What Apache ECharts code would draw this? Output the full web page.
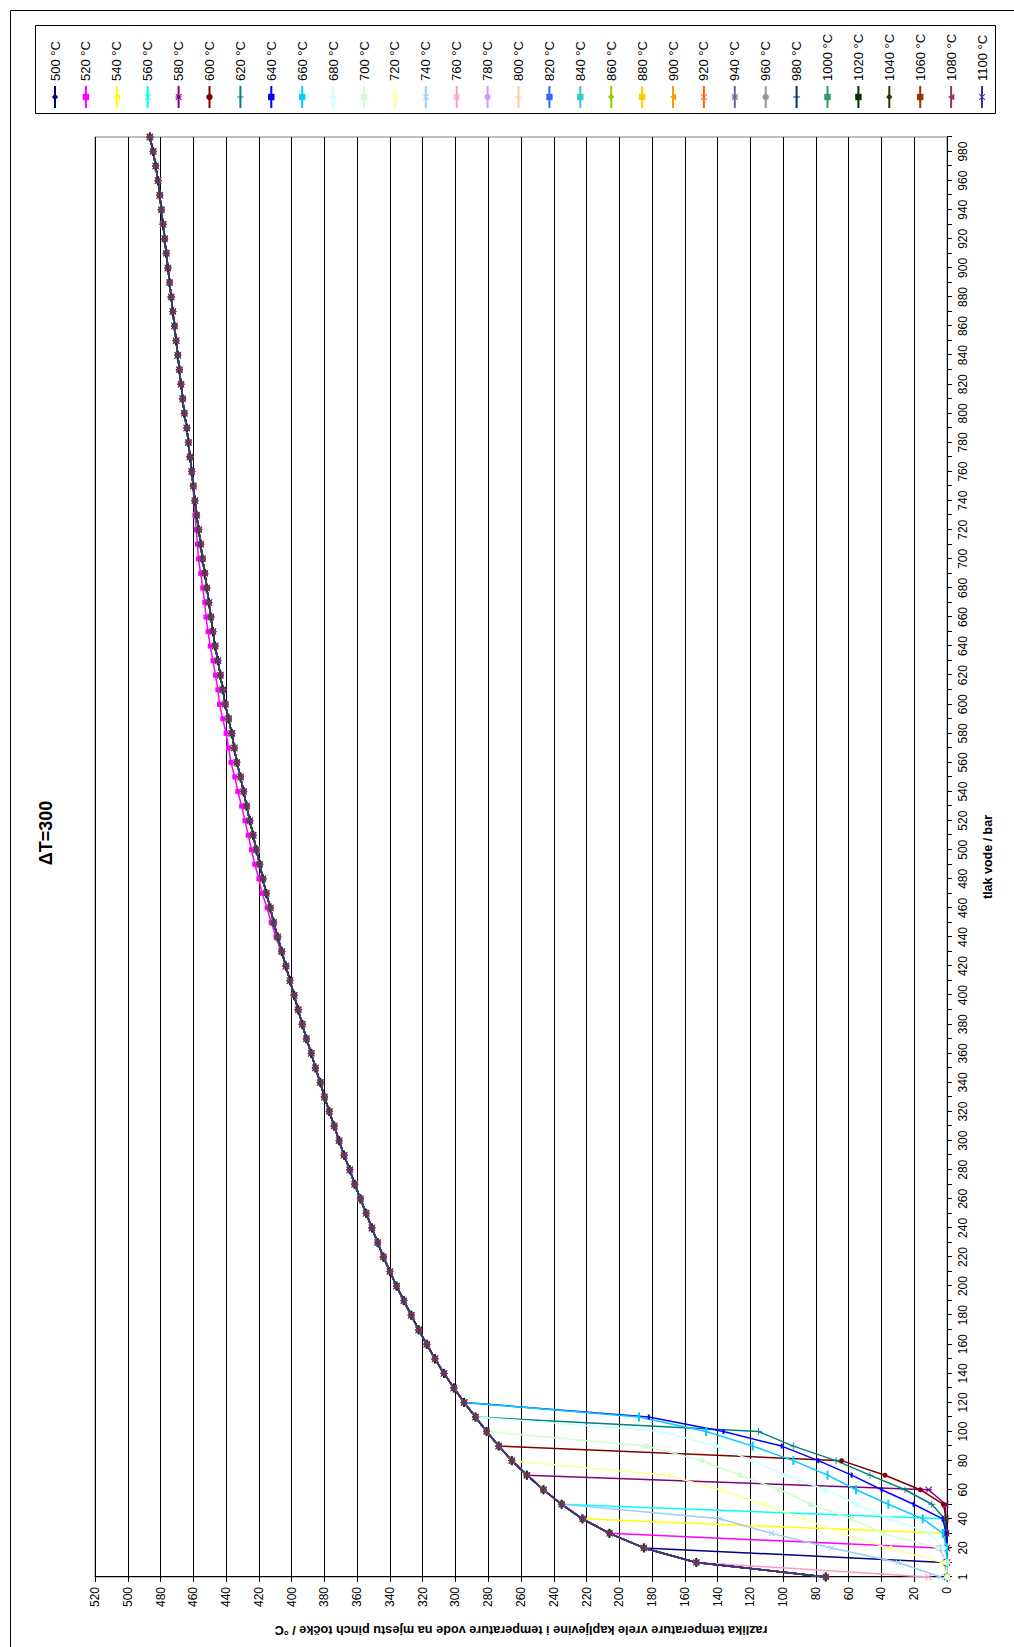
<!DOCTYPE html>
<html><head><meta charset="utf-8">
<script src="https://cdn.jsdelivr.net/npm/echarts/dist/echarts.min.js"></script>
<style>
html,body{margin:0;padding:0;width:1014px;height:1647px;overflow:hidden;background:#fff;}
#rot{position:absolute;left:0;top:0;width:1647px;height:1014px;transform-origin:0 0;transform:translateY(1647px) rotate(-90deg);}
#chart{width:1647px;height:1014px;}
</style></head><body>
<div id="rot"><div id="chart"></div></div>
<script>
// categories: water pressure / bar
const pressures = ['1','10','20','30','40','50','60','70','80','90','100','110','120','130','140','150','160','170','180','190','200','210','220','230','240','250','260','270','280','290','300','310','320','330','340','350','360','370','380','390','400','410','420','430','440','450','460','470','480','490','500','510','520','530','540','550','560','570','580','590','600','610','620','630','640','650','660','670','680','690','700','710','720','730','740','750','760','770','780','790','800','810','820','830','840','850','860','870','880','890','900','910','920','930','940','950','960','970','980','990'];
// shared curve (value at each pressure, where the series coincide)
const mainCurve = [74,153,185,206,222.5,235.2,246.3,256.4,265.6,273.6,281,287.8,294.7,301,307,312.5,317.5,322.5,327,331.5,336,340,344,347.5,351,354.5,358,361.5,364.5,368,371,374,377,380,382.5,385.5,388,391,393.5,396,398.5,401,403.5,406,408.5,411,413,415.5,417.5,419.5,421.5,423.5,425.5,427.5,429.3,431.2,433.5,435,436.5,438.5,440.5,442,443.5,445,446.7,448,449.3,450.5,451.8,453,454.4,455.5,456.7,458,459,460,461,462,463,464,465.5,466.5,467.5,468.5,469.5,470.5,471.5,472.5,473.5,474.5,475.5,476.5,477.5,478.5,479.5,480.5,481.5,483,484.5,486.5];
// series names
const seriesNames = ['500 °C','520 °C','540 °C','560 °C','580 °C','600 °C','620 °C','640 °C','660 °C','680 °C','700 °C','720 °C','740 °C','760 °C','780 °C','800 °C','820 °C','840 °C','860 °C','880 °C','900 °C','920 °C','940 °C','960 °C','980 °C','1000 °C','1020 °C','1040 °C','1060 °C','1080 °C','1100 °C'];
// low-pressure values of each series (from p=1 upward) before it joins the shared curve
const low500 = [0,1.5];
const low520 = [0,0.5,5];
const low540 = [0,0.5,1,2];
const low560 = [0,0.5,1,1,2];
const low580 = [0,0,0,0.5,1,1,11.2];
const low600 = [0,0,0,0,0.4,2.2,16.3,37.8,64.3];
const low620 = [0,0,0,0.5,1.5,9.3,25.6,47,67.7,93.8,115];
const low640 = [0,0,0,0.5,2.6,20.4,39.9,58.2,78.5,100.9,136.4,182];
const low660 = [0,0,0,2.6,14.8,35.8,55.5,72.9,93.8,118.6,147,188];
const low680 = [0,0,2,10.4,34.8,55,74,99,118.6,141.2,173.5];
const low700 = [0,0.5,5.3,38.9,58.2,83.2,102,126.4,149.8,183.7];
const low720 = [0,2.6,35.6,64.1,87.6,112,138.6,170.7];
const low740 = [4,29.7,70.4,107,138.6];
const low760 = [11.4];
const lowParts = [low500,low520,low540,low560,low580,low600,low620,low640,low660,low680,low700,low720,low740,low760];
// 520 °C runs slightly above the shared curve between 430 and 750 bar
const dev520Start = 43; // index of 430 bar
const dev520 = [0.5,1,1.5,2,2.5,2.5,3,3,3,3,3,3.5,3.5,3.5,3.5,3.5,3.5,3.5,3,3,3,3,3,3,2.5,2.5,2.5,2.5,2,1.5,1,0.5,0.3];

const colors = ['#000080','#FF00FF','#FFFF00','#00FFFF','#800080','#800000','#008080','#0000FF','#00CCFF','#CCFFFF','#CCFFCC','#FFFF99','#99CCFF','#FF99CC','#CC99FF','#FFCC99','#3366FF','#33CCCC','#99CC00','#FFCC00','#FF9900','#FF6600','#666699','#969696','#003366','#339966','#003300','#333300','#993300','#993366','#333399'];
const X_PATH = 'path://M0,1L1,0L10,9L9,10Z M9,0L10,1L1,10L0,9Z';
const STAR_PATH = 'path://M0,1L1,0L10,9L9,10Z M9,0L10,1L1,10L0,9Z M4.4,0L5.6,0L5.6,10L4.4,10Z';
const PLUS_PATH = 'path://M4.4,0H5.6V4.4H10V5.6H5.6V10H4.4V5.6H0V4.4H4.4Z';
const markers = [
  {s:'diamond', z:7},{s:'rect', z:5},{s:'triangle', z:6},{s:X_PATH, z:6},{s:STAR_PATH, z:7},
  {s:'circle', z:5},{s:PLUS_PATH, z:7},{s:'rect', z:[5,2]},{s:'rect', z:[9,2]}
];

const series = seriesNames.map((name,i)=>{
  const low = lowParts[i] || [];
  const data = low.concat(mainCurve.slice(low.length));
  if (i === 1) {
    dev520.forEach((d,k)=>{ data[dev520Start+k] = +(data[dev520Start+k] + d).toFixed(2); });
  }
  const m = markers[i % markers.length];
  return {
    name, type:'line', data, color: colors[i],
    symbol: m.s, symbolSize: m.z, showSymbol:true,
    lineStyle:{width:1.5, color: colors[i]},
    itemStyle:{color: colors[i], borderWidth:0},
    emphasis:{disabled:true}, animation:false, silent:true
  };
});

const chart = echarts.init(document.getElementById('chart'), null, {renderer:'svg'});
chart.setOption({
  animation:false,
  backgroundColor:'#ffffff',
  textStyle:{fontFamily:'Liberation Sans, Arial, sans-serif'},
  grid:{left:70, right:137, top:95, bottom:67, show:true, borderColor:'#808080', borderWidth:1, backgroundColor:'#ffffff'},
  legend:{
    data: seriesNames, orient:'vertical', left:1538, top:48.5,
    itemWidth:22, itemHeight:8, itemGap:17.9, padding:0,
    textStyle:{fontSize:13, lineHeight:13, color:'#000', fontFamily:'Liberation Sans, Arial, sans-serif'}
  },
  graphic:[
    {type:'text', x:814, y:37, style:{text:'\u0394T=300', textAlign:'center', font:'bold 18px "Liberation Sans", Arial, sans-serif', fill:'#000'}},
    {type:'rect', shape:{x:1533.5, y:35.5, width:88, height:960}, style:{fill:'none', stroke:'#000', lineWidth:1}, z:-1},
    {type:'rect', shape:{x:-20, y:10.5, width:1656.5, height:1050}, style:{fill:'none', stroke:'#000', lineWidth:1}, z:-1}
  ],
  xAxis:{
    type:'category', data: pressures, boundaryGap:false,
    name:'tlak vode / bar', nameLocation:'middle', nameGap:34,
    nameTextStyle:{fontSize:12.5, fontWeight:'bold', color:'#000'},
    axisLine:{lineStyle:{color:'#000', width:1}},
    axisTick:{show:true, interval:0, length:5, lineStyle:{color:'#000'}},
    axisLabel:{interval:1, fontSize:12, color:'#000', margin:10},
    splitLine:{show:false}
  },
  yAxis:{
    type:'value', min:0, max:520, interval:20,
    name:'razlika temperature vrele kapljevine i temperature vode na mjestu pinch točke / °C',
    nameLocation:'middle', nameGap:46, nameRotate:90,
    nameTextStyle:{fontSize:12.7, fontWeight:'bold', color:'#000'},
    axisLine:{show:true, lineStyle:{color:'#000', width:1}},
    axisTick:{show:true, length:5, lineStyle:{color:'#000'}},
    axisLabel:{fontSize:12, color:'#000', margin:10},
    splitLine:{show:true, lineStyle:{color:'#000', width:1}}
  },
  series
});
</script></body></html>
